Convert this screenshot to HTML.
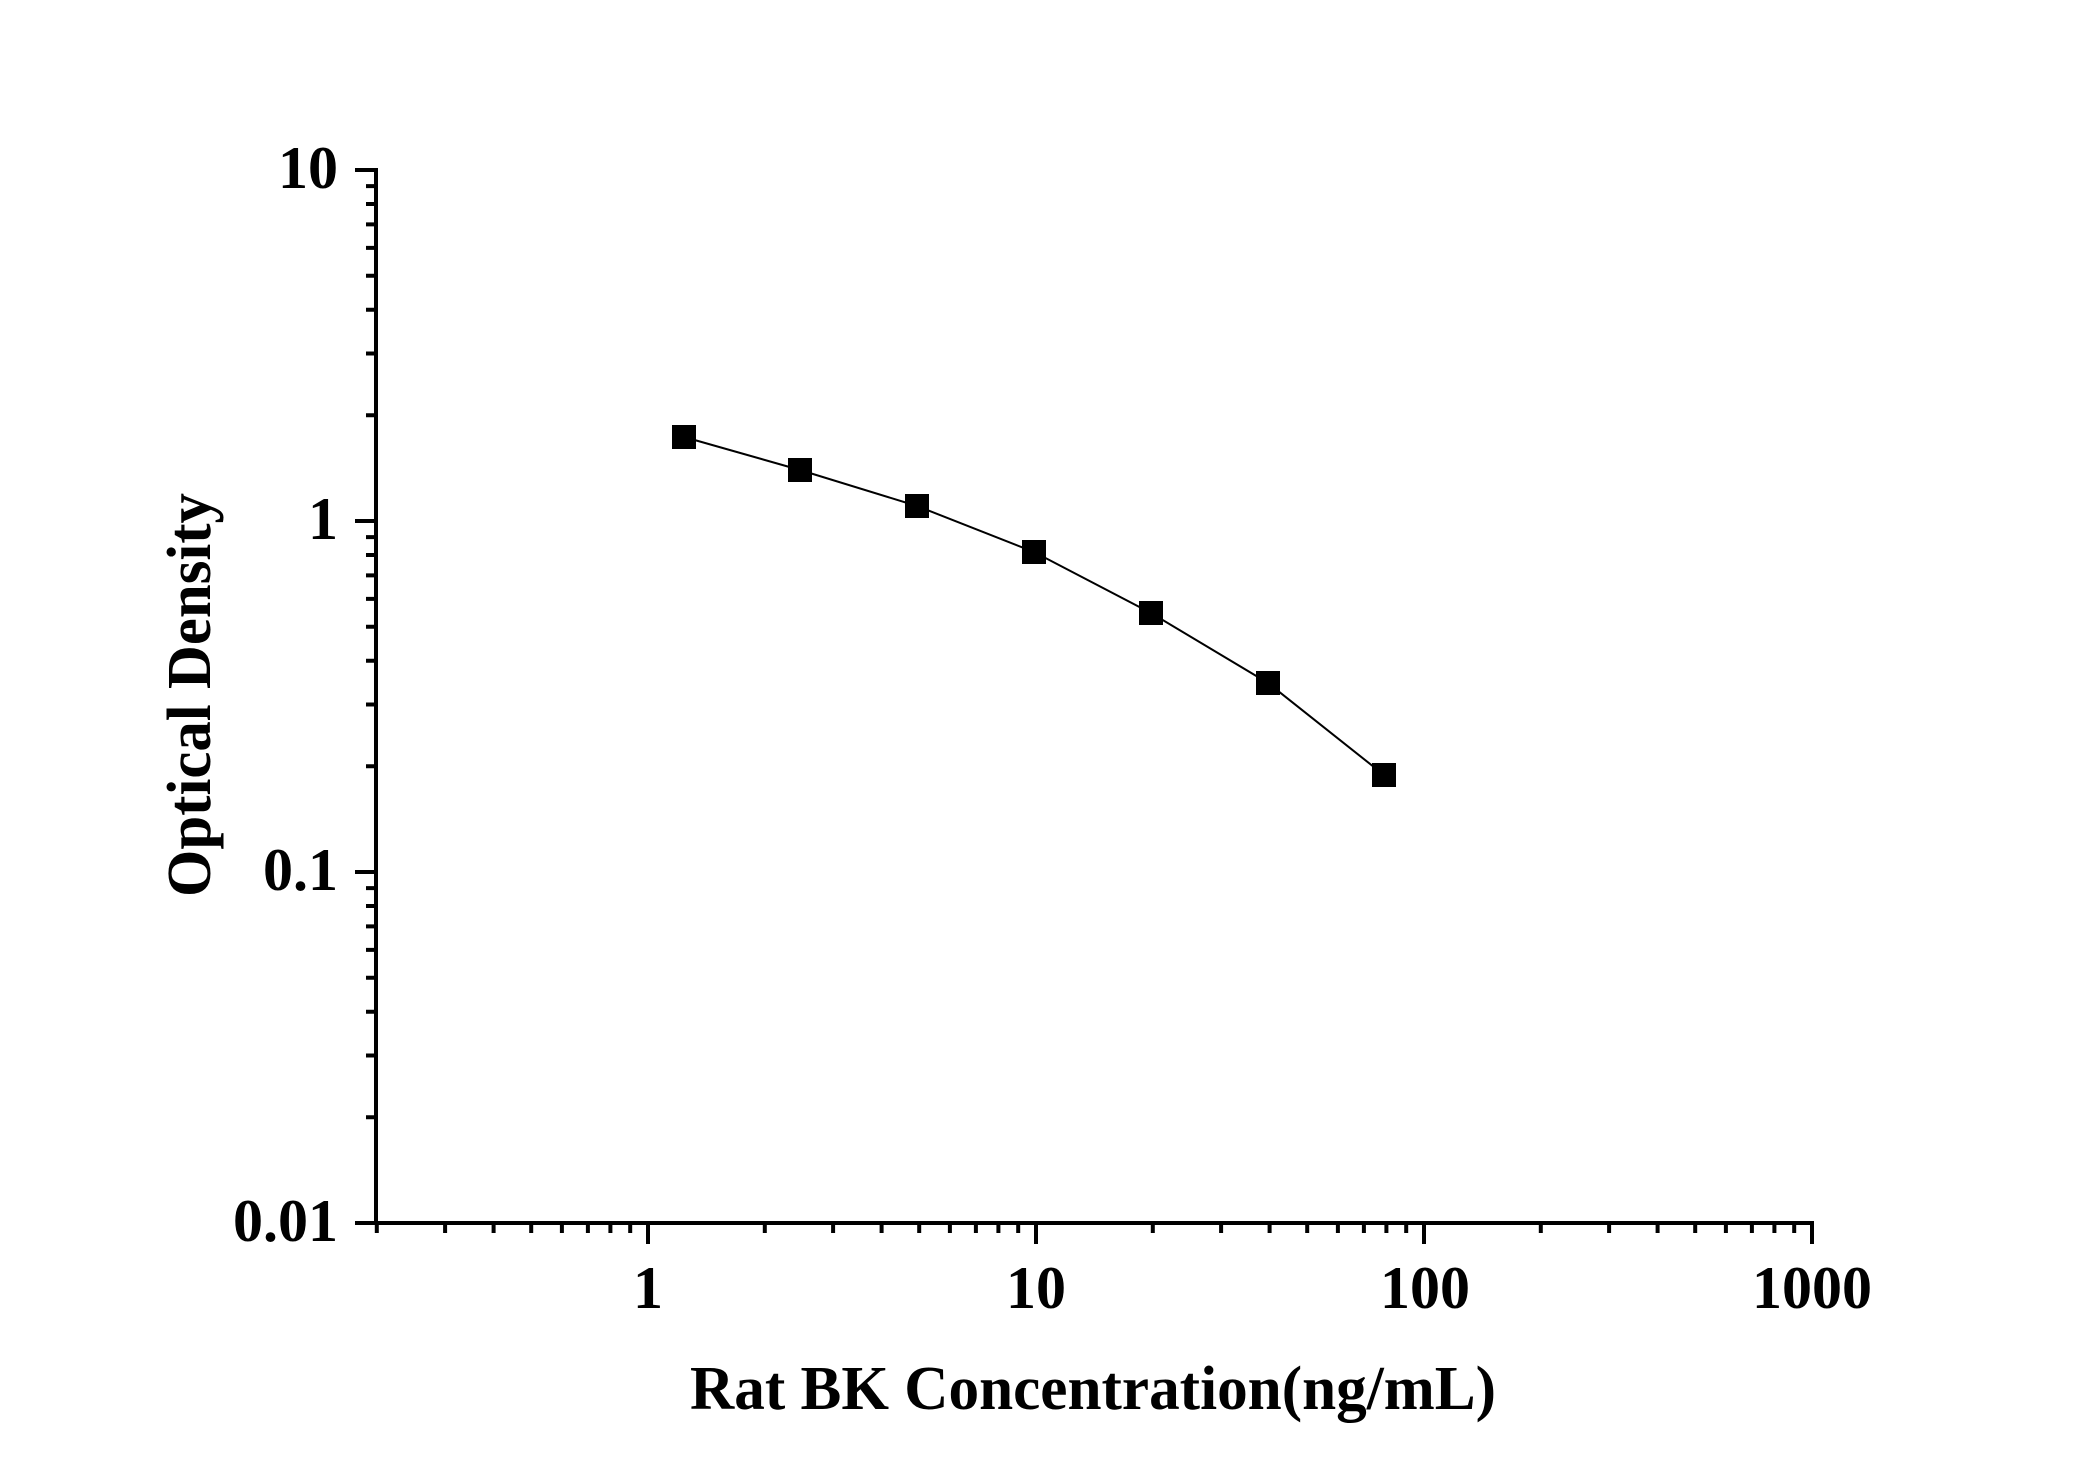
<!DOCTYPE html>
<html><head><meta charset="utf-8"><style>html,body{margin:0;padding:0;background:#fff}svg{display:block}</style></head>
<body>
<svg width="2100" height="1467" viewBox="0 0 2100 1467" xmlns="http://www.w3.org/2000/svg" font-family="'Liberation Serif', serif" font-weight="bold">
<rect width="2100" height="1467" fill="#fff"/>
<g stroke="#000" stroke-width="4" fill="none">
<line x1="376" y1="168" x2="376" y2="1225"/>
<line x1="374" y1="1223" x2="1814" y2="1223"/>
<path d="M355 170H376M355 521H376M355 872H376M355 1223H376
M366 1117.3H376M366 1055.5H376M366 1011.7H376M366 977.7H376M366 949.9H376M366 926.4H376M366 906H376M366 888.1H376
M366 766.3H376M366 704.5H376M366 660.7H376M366 626.7H376M366 598.9H376M366 575.4H376M366 555H376M366 537.1H376
M366 415.3H376M366 353.5H376M366 309.7H376M366 275.7H376M366 247.9H376M366 224.4H376M366 204H376M366 186.1H376"/>
<path d="M648 1223V1244M1036 1223V1244M1424 1223V1244M1812 1223V1244
M376.8 1223V1233M445.1 1223V1233M493.6 1223V1233M531.2 1223V1233M561.9 1223V1233M587.9 1223V1233M610.4 1223V1233M630.2 1223V1233
M764.8 1223V1233M833.1 1223V1233M881.6 1223V1233M919.2 1223V1233M949.9 1223V1233M975.9 1223V1233M998.4 1223V1233M1018.2 1223V1233
M1152.8 1223V1233M1221.1 1223V1233M1269.6 1223V1233M1307.2 1223V1233M1337.9 1223V1233M1363.9 1223V1233M1386.4 1223V1233M1406.2 1223V1233
M1540.8 1223V1233M1609.1 1223V1233M1657.6 1223V1233M1695.2 1223V1233M1725.9 1223V1233M1751.9 1223V1233M1774.4 1223V1233M1794.2 1223V1233"/>
</g>
<g font-size="60" fill="#000">
<text x="338" y="188" text-anchor="end">10</text>
<text x="338" y="539" text-anchor="end">1</text>
<text x="338" y="890" text-anchor="end">0.1</text>
<text x="338" y="1241" text-anchor="end">0.01</text>
<text x="648" y="1308" text-anchor="middle">1</text>
<text x="1036" y="1308" text-anchor="middle">10</text>
<text x="1425" y="1308" text-anchor="middle">100</text>
<text x="1812" y="1308" text-anchor="middle">1000</text>
</g>
<text x="1093" y="1409" font-size="62" text-anchor="middle" textLength="806" lengthAdjust="spacingAndGlyphs">Rat BK Concentration(ng/mL)</text>
<text transform="translate(210,695) rotate(-90)" font-size="62" text-anchor="middle" textLength="404" lengthAdjust="spacingAndGlyphs">Optical Density</text>
<polyline fill="none" stroke="#000" stroke-width="2" points="684,437 800,470 917,506 1034,552 1151,613 1268,683 1384,775"/>
<g fill="#000">
<rect x="672" y="425" width="24" height="24"/>
<rect x="788" y="458" width="24" height="24"/>
<rect x="905" y="494" width="24" height="24"/>
<rect x="1022" y="540" width="24" height="24"/>
<rect x="1139" y="601" width="24" height="24"/>
<rect x="1256" y="671" width="24" height="24"/>
<rect x="1372" y="763" width="24" height="24"/>
</g>
</svg>
</body></html>
